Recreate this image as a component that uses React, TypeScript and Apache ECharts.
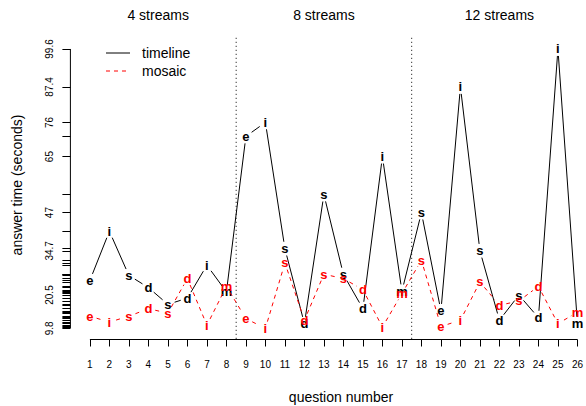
import React, { useEffect, useRef } from "react";
import * as echarts from "echarts";

const questions = [1, 2, 3, 4, 5, 6, 7, 8, 9, 10, 11, 12, 13, 14, 15, 16, 17, 18, 19, 20, 21, 22, 23, 24, 25, 26];
const questionTypes = ["e", "i", "s", "d", "s", "d", "i", "m", "e", "i", "s", "d", "s", "s", "d", "i", "m", "s", "e", "i", "s", "d", "s", "d", "i", "m"];
const timelineSeconds = [25.2, 41.0, 26.8, 22.9, 17.5, 19.5, 30.1, 21.5, 71.5, 76, 35.4, 11.3, 52.8, 27.1, 16.1, 65, 21.7, 47, 15.4, 87.4, 34.7, 12.4, 20.5, 13.2, 99.6, 11.3];
const mosaicSeconds = [13.7, 11.8, 13.7, 16.1, 14.7, 25.8, 10.8, 23.3, 12.9, 9.8, 30.8, 12.4, 27.2, 25.8, 22.2, 10.2, 21.0, 31.7, 10.4, 12.4, 24.7, 17.2, 18.6, 23.3, 11.3, 15.0];
const yTickLabels = [9.8, 20.5, 34.7, 47, 65, 76, 87.4, 99.6];
const streamGroups = ["4 streams", "8 streams", "12 streams"];
const streamCenters = [4.5, 13, 22];
const streamBreaks = [8.5, 17.5];

const FONT = '"Liberation Sans", Arial, Helvetica, sans-serif';

const allValues = [...timelineSeconds, ...mosaicSeconds];
const rugValues = Array.from(new Set(allValues)).sort((a, b) => a - b);
const yLo = Math.min(...allValues);
const yHi = Math.max(...allValues);
const yPad = (yHi - yLo) * 0.04;
const Y_MIN = yLo - yPad;
const Y_MAX = yHi + yPad;
const X_MIN = 0;
const X_MAX = 26.31;
const GAP = 7;

function gapSegment(api: any, a: number[], b: number[], style: any) {
  const p = api.coord(a);
  const q = api.coord(b);
  const dx = q[0] - p[0];
  const dy = q[1] - p[1];
  const d = Math.hypot(dx, dy);
  if (d <= 2 * GAP) return null;
  const ux = dx / d;
  const uy = dy / d;
  return {
    type: "line",
    shape: { x1: p[0] + ux * GAP, y1: p[1] + uy * GAP, x2: q[0] - ux * GAP, y2: q[1] - uy * GAP },
    style,
  };
}

function letterSeries(name: string, values: number[], color: string, dash: number[] | null) {
  return {
    name,
    type: "custom",
    clip: false,
    z: name === "mosaic" ? 4 : 3,
    data: questions.map((q, i) => [q, values[i]]),
    encode: { x: 0, y: 1 },
    renderItem: (params: any, api: any) => {
      const i = params.dataIndex;
      const p = api.coord([questions[i], values[i]]);
      const children: any[] = [];
      if (i < questions.length - 1) {
        const seg = gapSegment(api, [questions[i], values[i]], [questions[i + 1], values[i + 1]], {
          stroke: color,
          lineWidth: 1,
          lineDash: dash || undefined,
        });
        if (seg) children.push(seg);
      }
      children.push({
        type: "text",
        x: p[0],
        y: p[1],
        style: {
          text: questionTypes[i],
          fill: color,
          fontSize: 13,
          fontWeight: "bold",
          fontFamily: FONT,
          align: "center",
          verticalAlign: "middle",
        },
      });
      return { type: "group", children };
    },
  };
}

export default function App() {
  const ref = useRef<HTMLDivElement>(null);
  useEffect(() => {
    if (!ref.current) return;
    const chart = echarts.init(ref.current, null, { renderer: "svg" });
    chart.setOption({
      animation: false,
      backgroundColor: "#ffffff",
      grid: { left: 70.4, right: 0, top: 37.8, bottom: 66.5 },
      xAxis: {
        type: "value",
        min: X_MIN,
        max: X_MAX,
        axisLine: { show: false },
        splitLine: { show: false },
        axisTick: { show: true, customValues: questions, length: 7, lineStyle: { color: "#000", width: 1 } },
        axisLabel: { customValues: questions, fontSize: 10, color: "#000", fontFamily: FONT, margin: 20 },
      },
      yAxis: {
        type: "value",
        min: Y_MIN,
        max: Y_MAX,
        axisLine: { show: false },
        splitLine: { show: false },
        axisTick: { show: true, customValues: rugValues, length: 8, lineStyle: { color: "#000", width: 1 } },
        axisLabel: {
          customValues: yTickLabels,
          rotate: 90,
          fontSize: 10,
          color: "#000",
          fontFamily: FONT,
          margin: 16,
        },
      },
      graphic: [
        { type: "line", shape: { x1: 106, y1: 53, x2: 130, y2: 53 }, style: { stroke: "#000", lineWidth: 1 } },
        { type: "text", x: 142, y: 53, style: { text: "timeline", fontSize: 14, fontFamily: FONT, fill: "#000", verticalAlign: "middle" } },
        { type: "line", shape: { x1: 106, y1: 71, x2: 130, y2: 71 }, style: { stroke: "#ff0000", lineWidth: 1, lineDash: [4, 4] } },
        { type: "text", x: 142, y: 71, style: { text: "mosaic", fontSize: 14, fontFamily: FONT, fill: "#000", verticalAlign: "middle" } },
        { type: "text", x: 341, y: 397, style: { text: "question number", fontSize: 14, fontFamily: FONT, fill: "#000", align: "center", verticalAlign: "middle" } },
        { type: "text", x: 17, y: 185, rotation: Math.PI / 2, style: { text: "answer time (seconds)", fontSize: 14, fontFamily: FONT, fill: "#000", align: "center", verticalAlign: "middle" } },
      ],
      series: [
        {
          name: "frame",
          type: "custom",
          clip: false,
          silent: true,
          data: [[1, yLo]],
          encode: { x: 0, y: 1 },
          renderItem: (params: any, api: any) => {
            const a = api.coord([questions[0], Y_MIN]);
            const b = api.coord([questions[questions.length - 1], Y_MIN]);
            const c = api.coord([X_MIN, yTickLabels[0]]);
            const d = api.coord([X_MIN, yTickLabels[yTickLabels.length - 1]]);
            const children: any[] = [
              { type: "line", shape: { x1: a[0], y1: a[1], x2: b[0], y2: b[1] }, style: { stroke: "#000", lineWidth: 1 } },
              { type: "line", shape: { x1: c[0], y1: c[1], x2: d[0], y2: d[1] }, style: { stroke: "#000", lineWidth: 1 } },
            ];
            streamBreaks.forEach((bx) => {
              const t = api.coord([bx, Y_MAX]);
              const u = api.coord([bx, Y_MIN]);
              children.push({
                type: "line",
                shape: { x1: t[0], y1: t[1], x2: u[0], y2: u[1] },
                style: { stroke: "#000", lineWidth: 1, lineDash: [1, 3] },
              });
            });
            streamGroups.forEach((g, k) => {
              const p = api.coord([streamCenters[k], Y_MAX]);
              children.push({
                type: "text",
                x: p[0],
                y: 15,
                style: { text: g, fontSize: 14, fontFamily: FONT, fill: "#000", align: "center", verticalAlign: "middle" },
              });
            });
            return { type: "group", children };
          },
        },
        letterSeries("timeline", timelineSeconds, "#000000", null),
        letterSeries("mosaic", mosaicSeconds, "#ff0000", [4, 4]),
      ],
    });
    return () => chart.dispose();
  }, []);
  return <div ref={ref} style={{ position: "fixed", left: 0, top: 0, width: 586, height: 406 }} />;
}
